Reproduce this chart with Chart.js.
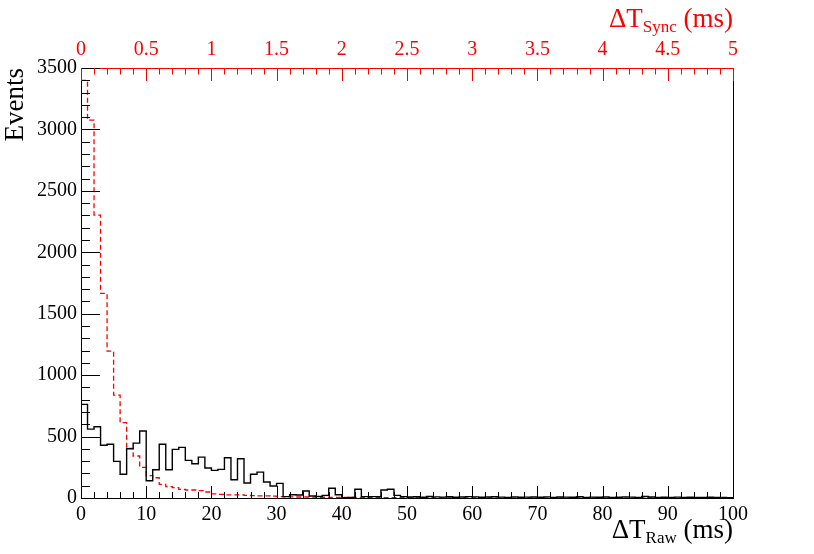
<!DOCTYPE html>
<html>
<head>
<meta charset="utf-8">
<script src="https://cdn.jsdelivr.net/npm/chart.js@4.4.1/dist/chart.umd.min.js"></script>
<style>
  html, body { margin: 0; padding: 0; background: #fff; }
  #wrap { width: 814px; height: 554px; }
</style>
</head>
<body>
<div id="wrap"><canvas id="dtChart" width="814" height="554"></canvas></div>
<script>
// histogram contents, one value per bin
const rawRange = [0, 100];   // ms, bottom axis
const syncRange = [0, 5];    // ms, top axis
const rawCounts = [
  762, 561, 580, 429, 437, 298, 193, 401, 447, 545,
  141, 230, 437, 230, 396, 412, 306, 279, 333, 244,
  225, 233, 328, 149, 320, 122, 193, 211, 130, 98,
  119, 11, 27, 24, 57, 16, 12, 21, 79, 27,
  3, 5, 71, 11, 11, 11, 65, 71, 21, 11,
  8, 10, 6, 12, 9, 7, 10, 6, 8, 11,
  9, 6, 8, 10, 7, 5, 9, 6, 7, 8,
  6, 9, 5, 8, 7, 6, 10, 5, 7, 6,
  8, 5, 6, 9, 7, 5, 12, 8, 5, 6,
  5, 7, 4, 6, 5, 4, 6, 5, 4, 3
];
const syncCounts = [
  3400, 3076, 2303, 1665, 1196, 838, 613, 404, 342, 250,
  182, 165, 111, 92, 84, 71, 65, 65, 60, 49,
  33, 30, 25, 25, 25, 22, 20, 18, 18, 15,
  12, 10, 9, 8, 8, 7, 6, 6, 5, 5,
  5, 4, 4, 4, 3, 3, 3, 3, 2, 2,
  2, 2, 2, 2, 1, 1, 1, 1, 1, 1,
  1, 1, 1, 1, 1, 1, 1, 1, 1, 1,
  1, 1, 1, 1, 1, 1, 1, 1, 1, 1,
  1, 1, 1, 1, 1, 1, 1, 1, 1, 1,
  1, 1, 1, 1, 1, 1, 1, 1, 1, 1
];

// tick labels
const rawTicks = [0, 10, 20, 30, 40, 50, 60, 70, 80, 90, 100];
const syncTicks = ['0', '0.5', '1', '1.5', '2', '2.5', '3', '3.5', '4', '4.5', '5'];
const eventTicks = [0, 500, 1000, 1500, 2000, 2500, 3000, 3500];

const serif = '"Liberation Serif", "Times New Roman", serif';

// bin edges -> step points
function histPoints(counts, range) {
  const w = (range[1] - range[0]) / counts.length;
  const pts = counts.map((v, i) => ({ x: range[0] + i * w, y: v }));
  pts.push({ x: range[1], y: counts[counts.length - 1] });
  return pts;
}

// ROOT-like inward ticks + axis titles with subscripts
const rootFrame = {
  id: 'rootFrame',
  afterDraw(chart) {
    const ctx = chart.ctx;
    const { left, right, top, bottom } = chart.chartArea;
    const sx = chart.scales.x, sx2 = chart.scales.x2, sy = chart.scales.y;
    ctx.save();
    ctx.lineWidth = 1;

    // bottom axis
    ctx.strokeStyle = '#000';
    ctx.beginPath();
    for (let v = rawRange[0]; v <= rawRange[1]; v += 2) {
      const px = Math.round(sx.getPixelForValue(v)) + 0.5;
      const len = v % 10 === 0 ? 12 : 6;
      ctx.moveTo(px, bottom);
      ctx.lineTo(px, bottom - len);
    }
    // left axis
    for (let v = 0; v <= 3500; v += 100) {
      const py = Math.round(sy.getPixelForValue(v)) + 0.5;
      const len = v % 500 === 0 ? 19 : 9;
      ctx.moveTo(left, py);
      ctx.lineTo(left + len, py);
    }
    ctx.stroke();

    // top axis (red)
    ctx.strokeStyle = '#ff0000';
    ctx.beginPath();
    for (let k = 0; k <= 50; k++) {
      const px = Math.round(sx2.getPixelForValue(k / 10)) + 0.5;
      const len = k % 5 === 0 ? 13 : 6.5;
      ctx.moveTo(px, top);
      ctx.lineTo(px, top + len);
    }
    ctx.stroke();

    drawTitle(ctx, right, 538, 'ΔT', 'Raw', ' (ms)', '#000');
    drawTitle(ctx, right, 27, 'ΔT', 'Sync', ' (ms)', '#ff0000');
    ctx.restore();
  }
};

function drawTitle(ctx, xRight, baseY, main, sub, tail, color) {
  const mainFont = '27px ' + serif;
  const subFont = '17px ' + serif;
  ctx.fillStyle = color;
  ctx.textAlign = 'left';
  ctx.textBaseline = 'alphabetic';
  ctx.font = mainFont;
  const w1 = ctx.measureText(main).width;
  const w3 = ctx.measureText(tail).width;
  ctx.font = subFont;
  const w2 = ctx.measureText(sub).width;
  let x = xRight - (w1 + w2 + w3);
  ctx.font = mainFont;
  ctx.fillText(main, x, baseY);
  x += w1;
  ctx.font = subFont;
  ctx.fillText(sub, x, baseY + 5);
  x += w2;
  ctx.font = mainFont;
  ctx.fillText(tail, x, baseY);
}

const ctx = document.getElementById('dtChart');

new Chart(ctx, {
  type: 'line',
  data: {
    datasets: [
      {
        label: 'ΔT Raw',
        data: histPoints(rawCounts, rawRange),
        xAxisID: 'x',
        yAxisID: 'y',
        borderColor: '#000',
        borderWidth: 1.4,
        stepped: 'before',
        fill: false,
        pointRadius: 0
      },
      {
        label: 'ΔT Sync',
        data: histPoints(syncCounts, syncRange),
        xAxisID: 'x2',
        yAxisID: 'y',
        borderColor: '#ff0000',
        borderWidth: 1.3,
        borderDash: [5, 3],
        stepped: 'before',
        fill: false,
        pointRadius: 0
      }
    ]
  },
  options: {
    responsive: false,
    animation: false,
    layout: { padding: 0 },
    plugins: {
      legend: { display: false },
      tooltip: { enabled: false }
    },
    scales: {
      x: {
        type: 'linear',
        position: 'bottom',
        min: rawRange[0],
        max: rawRange[1],
        afterBuildTicks: s => { s.ticks = rawTicks.map(v => ({ value: v })); },
        afterFit: s => { s.height = 56; },
        grid: { drawOnChartArea: false, drawTicks: false },
        border: { display: true, color: '#000', width: 1 },
        ticks: {
          color: '#000',
          padding: 7,
          maxRotation: 0,
          font: { family: serif, size: 20, lineHeight: 1 },
          callback: v => String(v)
        }
      },
      x2: {
        type: 'linear',
        position: 'top',
        min: syncRange[0],
        max: syncRange[1],
        afterBuildTicks: s => { s.ticks = syncTicks.map(t => ({ value: parseFloat(t) })); },
        afterFit: s => { s.height = 68; },
        grid: { drawOnChartArea: false, drawTicks: false },
        border: { display: true, color: '#ff0000', width: 1 },
        ticks: {
          color: '#ff0000',
          padding: 8,
          maxRotation: 0,
          font: { family: serif, size: 20, lineHeight: 1 },
          callback: (v, i) => syncTicks[i]
        }
      },
      y: {
        type: 'linear',
        position: 'left',
        min: 0,
        max: 3500,
        afterBuildTicks: s => { s.ticks = eventTicks.map(v => ({ value: v })); },
        afterFit: s => { s.width = 81; },
        grid: { drawOnChartArea: false, drawTicks: false },
        border: { display: true, color: '#000', width: 1 },
        ticks: {
          color: '#000',
          padding: 4,
          font: { family: serif, size: 20, lineHeight: 1 },
          callback: v => String(v)
        },
        title: {
          display: true,
          text: 'Events',
          align: 'end',
          color: '#000',
          padding: { top: 2, bottom: 0 },
          font: { family: serif, size: 27, lineHeight: 1 }
        }
      },
      y2: {
        type: 'linear',
        position: 'right',
        min: 0,
        max: 3500,
        afterFit: s => { s.width = 81; },
        grid: { drawOnChartArea: false, drawTicks: false },
        border: { display: true, color: '#000', width: 1 },
        ticks: { display: false }
      }
    }
  },
  plugins: [rootFrame]
});
</script>
</body>
</html>
